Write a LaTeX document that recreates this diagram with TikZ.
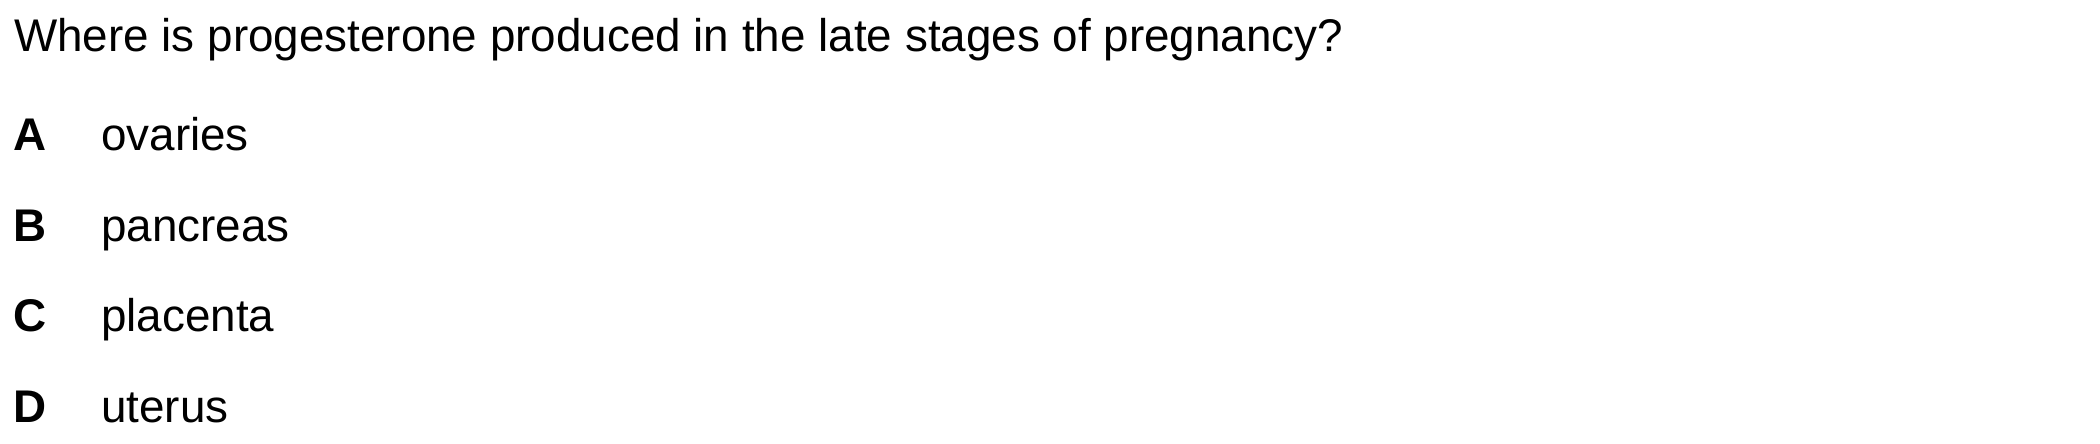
\documentclass[tikz,border=0pt]{standalone}
\usepackage{fontspec}
\setmainfont{Liberation Sans}
\begin{document}
\begin{tikzpicture}[x=1pt,y=1pt,
  txt/.style={anchor=base west,inner sep=0pt,font=\fontsize{45.8}{55}\selectfont},
  lbl/.style={txt,font=\fontsize{45.8}{55}\selectfont\bfseries}]
\useasboundingbox (0,0) rectangle (2100,444);
\node[txt] (q) at (14,392) {Where is progesterone produced in the late stages of pregnancy?};
\node[lbl] (la) at (13,293) {A};
\node[txt] (a) at (101,293) {ovaries};
\node[lbl] (lb) at (13,202) {B};
\node[txt] (b) at (101,202) {pancreas};
\node[lbl] (lc) at (13,112) {C};
\node[txt] (c) at (101,112) {placenta};
\node[lbl] (ld) at (13,21) {D};
\node[txt] (d) at (101,21) {uterus};
\end{tikzpicture}
\end{document}
